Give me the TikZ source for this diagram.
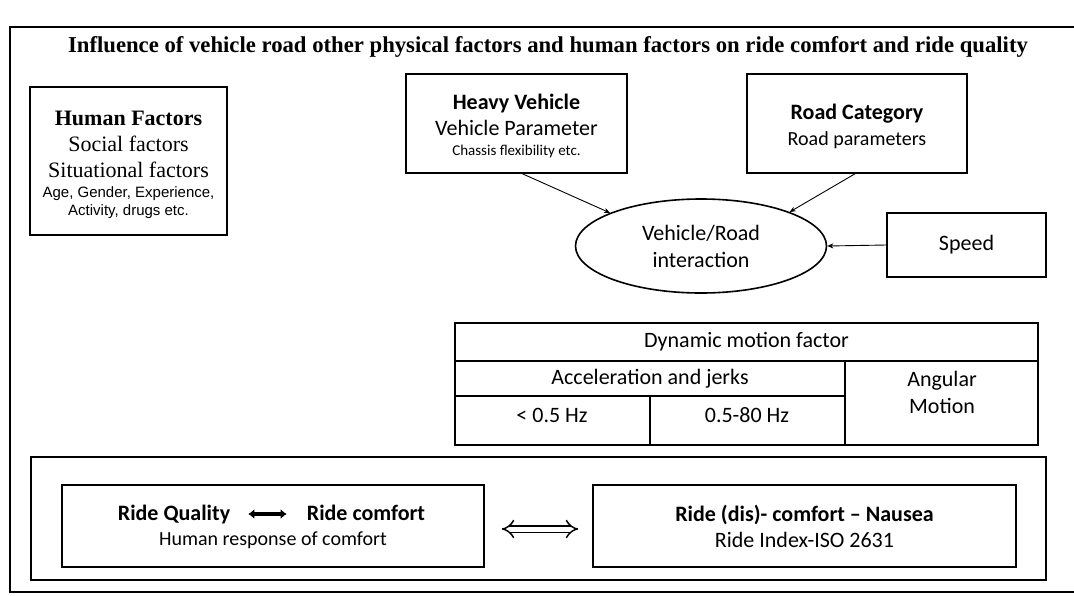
\documentclass[tikz,border=0pt]{standalone}
\usepackage{fontspec}
\setmainfont{Carlito}
\newfontfamily\timesf{Liberation Serif}
\newfontfamily\arialf{Liberation Sans}
\usetikzlibrary{shapes.geometric,arrows.meta}
\begin{document}
\begin{tikzpicture}[x=1pt,y=-1pt,
  box/.style={draw, line width=1.6pt, inner sep=0pt, align=center, font=\fontsize{22}{26}\selectfont},
  cell/.style={draw, line width=1.4pt, inner sep=0pt},
  txt/.style={inner sep=0pt, align=center, font=\fontsize{22}{26}\selectfont},
  conn/.style={line width=0.9pt, -{Stealth[length=6pt,width=5pt]}}]
\useasboundingbox (0,0) rectangle (1074,595);
\draw[line width=1.6pt] (1074,27) -- (10,27) -- (10,592) -- (1074,592);

\node[txt, font=\timesf\bfseries\fontsize{22.7}{26}\selectfont] (title) at (548,47)
  {Influence of vehicle road other physical factors and human factors on ride comfort and ride quality};

\node[box, minimum width=197pt, minimum height=148pt, font=\timesf\fontsize{22}{26}\selectfont] (hf) at (128.5,161)
  {\rule{0pt}{23pt}\textbf{Human Factors}\\Social factors\\Situational factors\\[-6pt]%
   {\arialf\fontsize{15}{18}\selectfont Age, Gender, Experience,}\\[-8pt]%
   {\arialf\fontsize{15}{18}\selectfont Activity, drugs etc.}};

\node[box, minimum width=221pt, minimum height=99pt] (hv) at (516.5,123.5)
  {\rule{0pt}{21pt}\textbf{Heavy Vehicle}\\Vehicle Parameter\\[-6pt]{\fontsize{15}{18}\selectfont Chassis flexibility etc.}};

\node[box, minimum width=220pt, minimum height=99pt] (rc) at (857,123.5)
  {\rule{0pt}{22pt}\textbf{Road Category}\\{\fontsize{20}{24}\selectfont Road parameters}};

\node[draw, ellipse, line width=1.6pt, minimum width=251pt, minimum height=94pt, inner sep=0pt,
  align=center, font=\fontsize{22}{27}\selectfont] (vr) at (701,246) {Vehicle/Road\\interaction};

\node[box, minimum width=159pt, minimum height=64pt] (sp) at (966.5,245) {Speed};

\draw[conn] ([xshift=6pt]hv.south) -- (vr.160);
\draw[conn] ([xshift=-2pt]rc.south) -- (vr.21);
\draw[conn] (sp.west) -- (vr.east);

% table
\node[cell, minimum width=583pt, minimum height=38pt] (dmf) at (746.5,342) {};
\node[cell, minimum width=390pt, minimum height=35pt] (acc) at (650,378.5) {};
\node[cell, minimum width=193pt, minimum height=84pt] (ang) at (941.5,403) {};
\node[cell, minimum width=195pt, minimum height=49pt] (lo) at (552.5,420.5) {};
\node[cell, minimum width=195pt, minimum height=49pt] (hi) at (747.5,420.5) {};
\node[txt] (dmft) at (dmf.center) {Dynamic motion factor};
\node[txt] (acct) at (650,379) {Acceleration and jerks};
\node[txt, font=\fontsize{22}{27}\selectfont] (angt) at (942,392) {Angular\\Motion};
\node[txt] (lot) at (552,415) {< 0.5 Hz};
\node[txt] (hit) at (747,415) {0.5-80 Hz};

% bottom
\node[draw, line width=1.6pt, minimum width=1015pt, minimum height=123pt, inner sep=0pt] (bot) at (538.5,518.5) {};
\node[box, minimum width=422pt, minimum height=82pt] (lq) at (273,526) {};
\node[txt, anchor=base, font=\bfseries\fontsize{22}{26}\selectfont] (rq) at (174,520) {Ride Quality};
\node[txt, anchor=base, font=\bfseries\fontsize{22}{26}\selectfont] (rcm) at (366,520) {Ride comfort};
\node[txt, font=\fontsize{20}{24}\selectfont] (hr) at (273,540) {Human response of comfort};
\draw[line width=3.6pt, {Latex[length=6pt,width=10pt]}-{Latex[length=6pt,width=10pt]},
  shorten <=18pt, shorten >=20pt] ([yshift=6pt]rq.base east) -- ([yshift=6pt]rcm.base west);

\node[box, minimum width=423pt, minimum height=82pt] (rb) at (804.5,526)
  {\textbf{Ride (dis)- comfort – Nausea}\\Ride Index-ISO 2631};

\draw[double, double distance=5pt, line width=1.5pt, {Implies}-{Implies},
  shorten <=17pt, shorten >=14pt] ([yshift=-3pt]lq.east) -- ([yshift=-3pt]rb.west);
\end{tikzpicture}
\end{document}
